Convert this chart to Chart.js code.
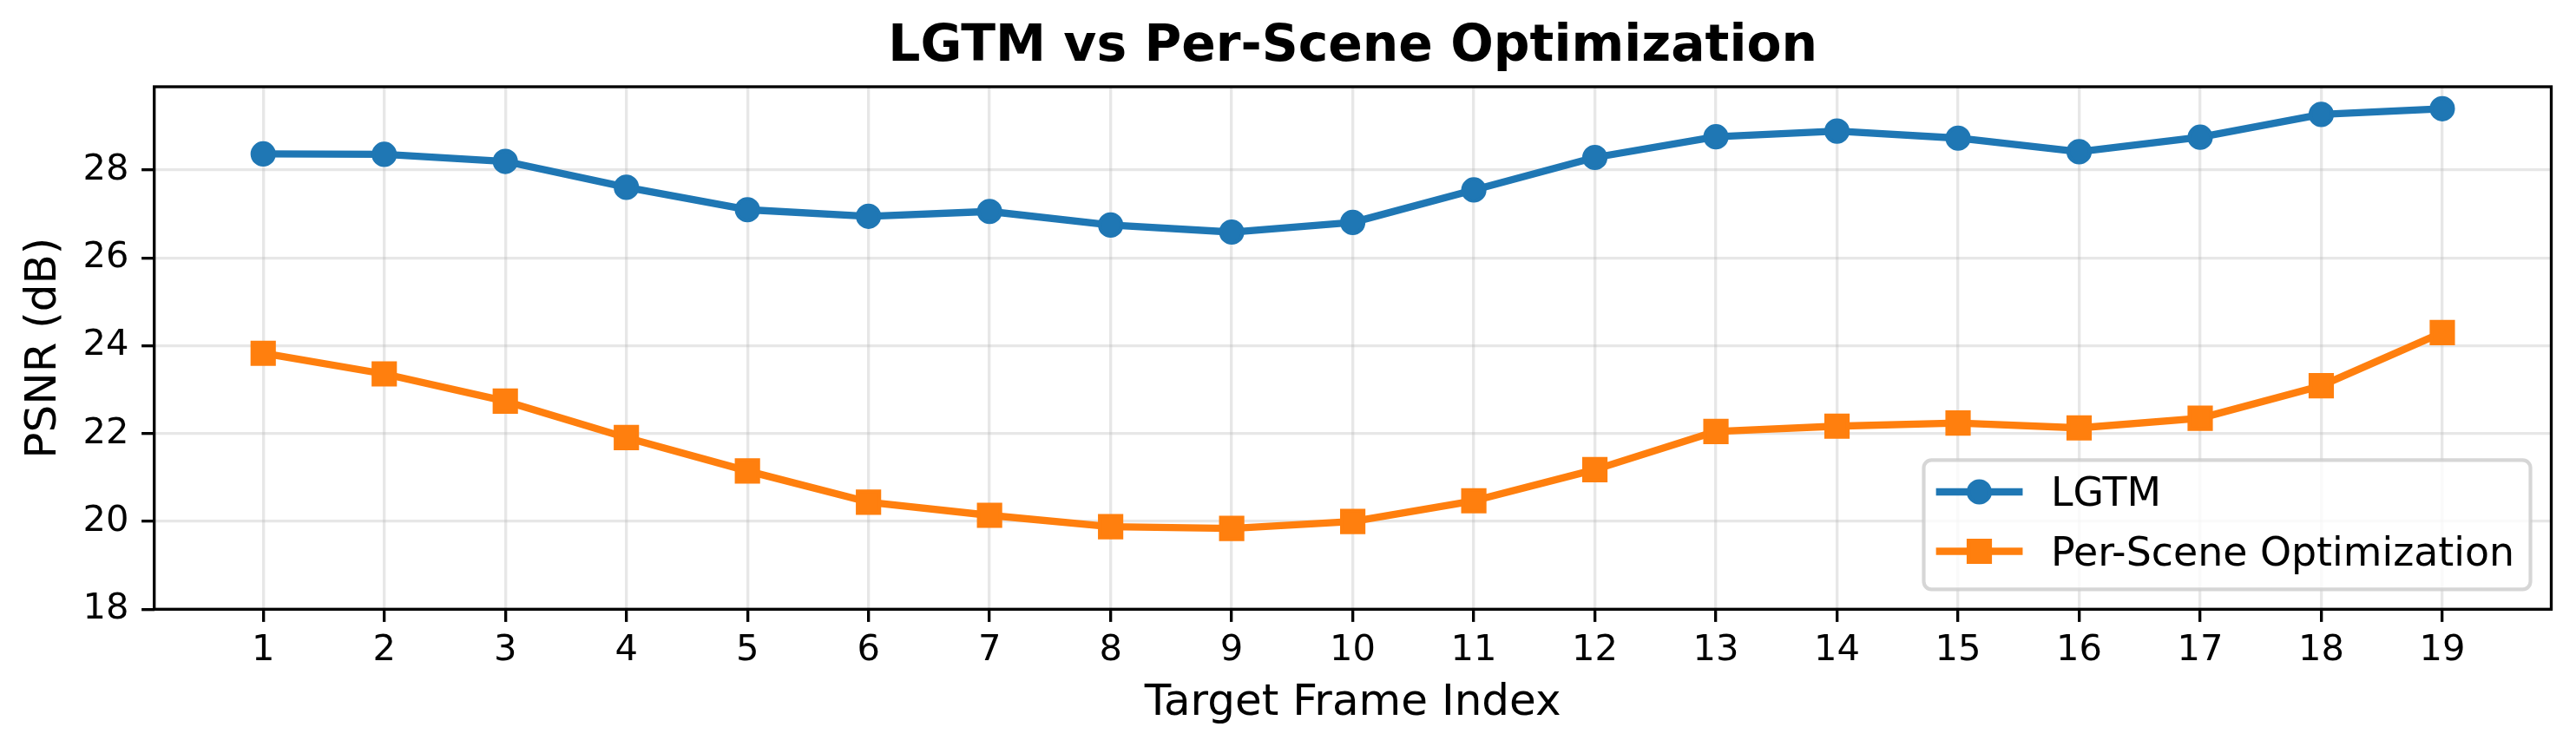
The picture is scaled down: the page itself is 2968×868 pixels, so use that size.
<!DOCTYPE html>
<html>
<head>
<meta charset="utf-8">
<script src="https://cdn.jsdelivr.net/npm/chart.js@4/dist/chart.umd.min.js"></script>
<style>
  html, body { margin: 0; padding: 0; background: #fff; }
  canvas { display: block; }
</style>
</head>
<body>
<canvas id="chart" width="2968" height="868"></canvas>
<script>
// Données
const frames = [1, 2, 3, 4, 5, 6, 7, 8, 9, 10, 11, 12, 13, 14, 15, 16, 17, 18, 19];
const lgtm = [28.37, 28.36, 28.20, 27.61, 27.10, 26.95, 27.06, 26.75, 26.59, 26.81,
              27.55, 28.29, 28.76, 28.89, 28.73, 28.42, 28.75, 29.27, 29.40];
const perScene = [23.83, 23.36, 22.74, 21.91, 21.15, 20.44, 20.14, 19.88, 19.84, 20.00,
                  20.47, 21.18, 22.05, 22.17, 22.24, 22.13, 22.35, 23.09, 24.30];
const yTicks = [18, 20, 22, 24, 26, 28];
const seriesNames = ['LGTM', 'Per-Scene Optimization'];
const titleText = 'LGTM vs Per-Scene Optimization';
const xTitle = 'Target Frame Index';
const yTitle = 'PSNR (dB)';

const FONT = '"DejaVu Sans", sans-serif';
const PT = 300 / 72; // figure saved at 300 dpi
const BLUE = '#1f77b4';
const ORANGE = '#ff7f0e';

Chart.defaults.color = '#000';
Chart.defaults.font.family = FONT;

// cadre noir sur les 4 côtés (spines matplotlib)
const spines = {
  id: 'spines',
  afterDatasetsDraw(chart) {
    const {ctx, chartArea: a} = chart;
    ctx.save();
    ctx.strokeStyle = '#000';
    ctx.lineWidth = 0.8 * PT;
    ctx.strokeRect(a.left, a.top, a.right - a.left, a.bottom - a.top);
    ctx.restore();
  }
};

function marker(ctx, style, x, y, color) {
  ctx.fillStyle = color;
  ctx.strokeStyle = color;
  ctx.lineWidth = PT;
  ctx.beginPath();
  if (style === 'circle') {
    ctx.arc(x, y, 3 * PT, 0, Math.PI * 2);
  } else {
    ctx.rect(x - 3 * PT, y - 3 * PT, 6 * PT, 6 * PT);
  }
  ctx.fill();
  ctx.stroke();
}

// légende "lower right" façon matplotlib
const mplLegend = {
  id: 'mplLegend',
  afterDraw(chart) {
    const {ctx, chartArea: a} = chart;
    const w = 699, h = 149;
    const right = a.right - 24, bottom = a.bottom - 23;
    const left = right - w, top = bottom - h;
    ctx.save();
    ctx.beginPath();
    if (ctx.roundRect) ctx.roundRect(left, top, w, h, 9);
    else ctx.rect(left, top, w, h);
    ctx.fillStyle = 'rgba(255,255,255,0.8)';
    ctx.fill();
    ctx.strokeStyle = 'rgba(204,204,204,0.8)';
    ctx.lineWidth = PT;
    ctx.stroke();

    ctx.font = (11 * PT) + 'px ' + FONT;
    ctx.textBaseline = 'alphabetic';
    ctx.textAlign = 'left';
    chart.data.datasets.forEach((ds, i) => {
      const cy = top + 36.7 + i * 68.5;
      ctx.strokeStyle = ds.borderColor;
      ctx.lineWidth = ds.borderWidth;
      ctx.lineCap = 'square';
      ctx.beginPath();
      ctx.moveTo(left + 18.3, cy);
      ctx.lineTo(left + 109.8, cy);
      ctx.stroke();
      marker(ctx, ds.pointStyle, left + 64, cy, ds.borderColor);
      ctx.fillStyle = '#000';
      ctx.fillText(ds.label, left + 146.5, cy + 16);
    });
    ctx.restore();
  }
};

const gridOpts = {
  color: 'rgba(176,176,176,0.3)',
  lineWidth: 0.8 * PT,
  tickColor: '#000',
  tickWidth: 0.8 * PT,
  tickLength: 3.5 * PT
};

new Chart(document.getElementById('chart'), {
  type: 'line',
  data: {
    datasets: [
      {
        label: seriesNames[0],
        data: frames.map((f, i) => ({x: f, y: lgtm[i]})),
        borderColor: BLUE,
        backgroundColor: BLUE,
        borderWidth: 2 * PT,
        borderJoinStyle: 'round',
        pointStyle: 'circle',
        pointRadius: 3 * PT,
        pointBorderWidth: PT,
        pointBackgroundColor: BLUE,
        pointBorderColor: BLUE
      },
      {
        label: seriesNames[1],
        data: frames.map((f, i) => ({x: f, y: perScene[i]})),
        borderColor: ORANGE,
        backgroundColor: ORANGE,
        borderWidth: 2 * PT,
        borderJoinStyle: 'round',
        pointStyle: 'rect',
        pointRadius: 3 * PT / Math.SQRT1_2,
        pointBorderWidth: PT,
        pointBackgroundColor: ORANGE,
        pointBorderColor: ORANGE
      }
    ]
  },
  options: {
    responsive: false,
    devicePixelRatio: 1,
    animation: false,
    events: [],
    layout: { padding: { left: 0, right: 28.5, top: 0, bottom: 0 } },
    plugins: {
      legend: { display: false },
      tooltip: { enabled: false },
      title: {
        display: true,
        text: titleText,
        fullSize: false,
        font: { size: 14 * PT, weight: 'bold', family: FONT },
        padding: { top: 19.8, bottom: 10.2 }
      }
    },
    scales: {
      x: {
        type: 'linear',
        min: 0.1,
        max: 19.9,
        afterBuildTicks: s => { s.ticks = frames.map(v => ({value: v})); },
        afterFit: s => { s.height = 165.7; },
        grid: gridOpts,
        border: { display: false },
        ticks: { autoSkip: false, maxRotation: 0, padding: 8.7, font: { size: 10 * PT } },
        title: {
          display: true,
          text: xTitle,
          font: { size: 12 * PT },
          padding: { top: 0, bottom: 27.3 }
        }
      },
      y: {
        type: 'linear',
        min: 18,
        max: 29.9,
        afterBuildTicks: s => { s.ticks = yTicks.map(v => ({value: v})); },
        afterFit: s => { s.width = 177.7; },
        grid: gridOpts,
        border: { display: false },
        ticks: { padding: 14.6, font: { size: 10 * PT } },
        title: {
          display: true,
          text: yTitle,
          font: { size: 12 * PT },
          padding: { top: 21, bottom: 0 }
        }
      }
    }
  },
  plugins: [spines, mplLegend]
});
</script>
</body>
</html>
